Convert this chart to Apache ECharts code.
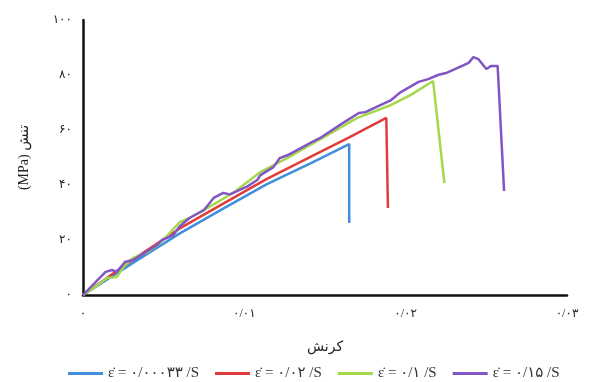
<!DOCTYPE html>
<html>
<head>
<meta charset="utf-8">
<script src="https://cdn.jsdelivr.net/npm/echarts@6/dist/echarts.min.js"></script>
<style>html,body{margin:0;padding:0;background:#fff}#c{width:589px;height:382px}</style>
</head>
<body>
<div id="c"></div>
<script>
const xTicks = [0, 0.01, 0.02, 0.03];
const xTickLabels = ['۰', '۰/۰۱', '۰/۰۲', '۰/۰۳'];
const yTicks = [0, 20, 40, 60, 80, 100];
const yTickLabels = ['۰', '۲۰', '۴۰', '۶۰', '۸۰', '۱۰۰'];
const seriesNames = ['ε̇ = ۰/۰۰۰۳۳ /S', 'ε̇ = ۰/۰۲ /S', 'ε̇ = ۰/۱ /S', 'ε̇ = ۰/۱۵ /S'];
const xName = 'کرنش';
const yName = '(MPa) تنش';

const blueStrain = [0, 0.0030, 0.0060, 0.0088, 0.0114, 0.0141, 0.0165, 0.0165];
const blueStress = [0, 11.3, 22.4, 31.8, 40.3, 47.9, 54.9, 26.2];

const redStrain = [0, 0.0030, 0.0060, 0.0088, 0.0114, 0.0141, 0.0165, 0.0188, 0.0189];
const redStress = [0, 12.5, 24.2, 33.6, 42.2, 50.2, 57.3, 64.4, 31.6];

const greenStrain = [0, 0.0009, 0.0015, 0.0021, 0.0025, 0.0031, 0.0040, 0.0048, 0.0060, 0.0066, 0.0077, 0.0093, 0.0110, 0.0130, 0.0155, 0.0170, 0.0191, 0.0203, 0.0217, 0.0224];
const greenStress = [0, 3.6, 6.2, 6.5, 10.2, 13.5, 15.6, 18.9, 26.5, 28.0, 31.6, 37.1, 44.7, 50.9, 59.3, 64.4, 69.1, 72.7, 77.8, 40.7];

const purpleStrain = [0, 0.0014, 0.0018, 0.0021, 0.0026, 0.0031, 0.0046, 0.0049, 0.0056, 0.0060, 0.0066, 0.0075, 0.0081, 0.0087, 0.0091, 0.0102, 0.0108, 0.0110, 0.0118, 0.0122, 0.0127, 0.0141, 0.0147, 0.0161, 0.0171, 0.0175, 0.0191, 0.0197, 0.0208, 0.0214, 0.0220, 0.0225, 0.0236, 0.0239, 0.0242, 0.0245, 0.0250, 0.0253, 0.0257, 0.0261];
const purpleStress = [0, 8.4, 9.1, 8.4, 12.0, 12.7, 18.2, 20.0, 21.8, 25.0, 28.0, 30.9, 35.3, 37.1, 36.6, 39.5, 41.8, 43.6, 46.5, 49.8, 50.9, 55.3, 57.1, 62.5, 66.2, 66.5, 70.9, 73.8, 77.5, 78.5, 80.0, 80.7, 83.6, 84.4, 86.5, 85.8, 82.2, 83.3, 83.3, 37.8];

const colors = ['#3f8fdc', '#e23b3b', '#a5d84c', '#8156c4'];
const FONT = '"Liberation Serif", "DejaVu Sans", serif';

function zip(a, b) { return a.map((v, i) => [v, b[i]]); }
const allData = [zip(blueStrain, blueStress), zip(redStrain, redStress), zip(greenStrain, greenStress), zip(purpleStrain, purpleStress)];

function lbl(ticks, labels) {
  return v => { const i = ticks.findIndex(t => Math.abs(t - v) < 1e-9); return i >= 0 ? labels[i] : ''; };
}

const chart = echarts.init(document.getElementById('c'), null, { renderer: 'canvas' });
chart.setOption({
  animation: false,
  backgroundColor: '#fff',
  color: colors,
  grid: { left: 83, right: 22, top: 20, bottom: 87, containLabel: false },
  legend: {
    top: 361, left: 63, itemWidth: 35, itemHeight: 3, itemGap: 16,
    icon: 'rect',
    textStyle: { fontFamily: FONT, fontSize: 15, color: '#333' },
    data: seriesNames
  },
  xAxis: {
    type: 'value', min: 0, max: 0.03, interval: 0.01,
    name: xName, nameLocation: 'middle', nameGap: 45,
    nameTextStyle: { fontFamily: FONT, fontSize: 14, color: '#222' },
    axisLine: { show: true, lineStyle: { color: '#111', width: 2.5 } },
    axisTick: { show: false },
    splitLine: { show: false },
    axisLabel: { formatter: lbl(xTicks, xTickLabels), fontFamily: FONT, fontSize: 12, color: '#222', margin: 13 }
  },
  yAxis: {
    type: 'value', min: 0, max: 100, interval: 20,
    name: yName, nameLocation: 'middle', nameGap: 52, nameRotate: 90,
    nameTextStyle: { fontFamily: FONT, fontSize: 14, color: '#222' },
    axisLine: { show: true, lineStyle: { color: '#111', width: 2.5 } },
    axisTick: { show: false },
    splitLine: { show: false },
    axisLabel: { formatter: lbl(yTicks, yTickLabels), fontFamily: FONT, fontSize: 12, color: '#222', margin: 11 }
  },
  series: seriesNames.map((n, i) => ({
    name: n, type: 'line', data: allData[i], showSymbol: false, symbol: 'none',
    lineStyle: { width: 2.5, color: colors[i] }, z: i + 2
  }))
});
</script>
</body>
</html>
